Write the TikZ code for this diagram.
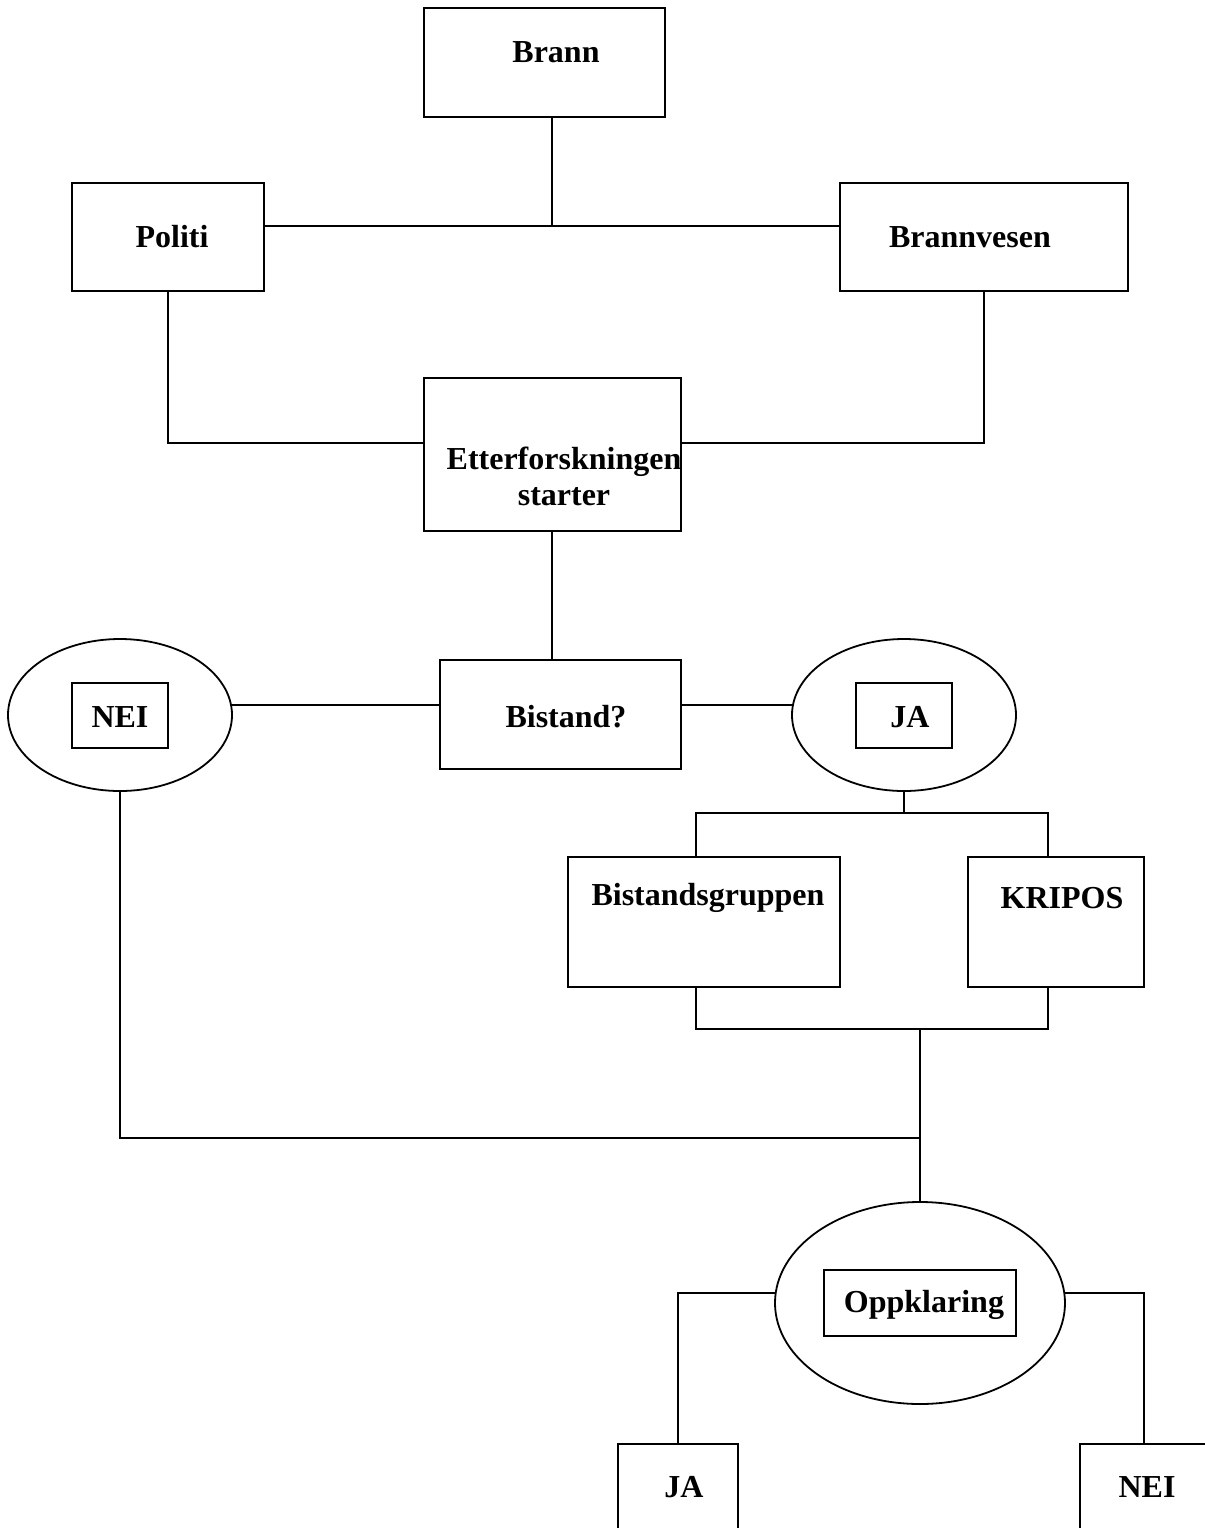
\documentclass[tikz,border=0pt]{standalone}
\usepackage{fontspec}
\setmainfont{Liberation Serif}
\usetikzlibrary{shapes.geometric}

\begin{document}
\begin{tikzpicture}[x=0.5pt,y=-0.5pt,line width=0.9pt,
    box/.style={draw,inner sep=0pt,outer sep=0pt},
    oval/.style={draw,ellipse,inner sep=0pt,outer sep=0pt},
    txt/.style={font=\fontsize{16}{18}\selectfont\bfseries,inner sep=0pt,align=center}]
    \useasboundingbox (0,0) rectangle (1205,1528);
    \clip (0,0) rectangle (1205,1528);
    \node[box,minimum width=120.5pt,minimum height=54.5pt] (brann) at (544.5,62.5) {};
    \node[box,minimum width=96pt,minimum height=54pt] (politi) at (168,237) {};
    \node[box,minimum width=144pt,minimum height=54pt] (brannvesen) at (984,237) {};
    \node[box,minimum width=128.5pt,minimum height=76.5pt] (etter) at (552.5,454.5) {};
    \node[box,minimum width=120.5pt,minimum height=54.5pt] (bistand) at (560.5,714.5) {};
    \node[oval,minimum width=112pt,minimum height=76pt] (neiell) at (120,715) {};
    \node[box,minimum width=48pt,minimum height=32.5pt] (neibox) at (120,715.5) {};
    \node[oval,minimum width=112pt,minimum height=76pt] (jaell) at (904,715) {};
    \node[box,minimum width=48pt,minimum height=32.5pt] (jabox) at (904,715.5) {};
    \node[box,minimum width=136pt,minimum height=65pt] (bgr) at (704,922) {};
    \node[box,minimum width=88pt,minimum height=65pt] (kripos) at (1056,922) {};
    \node[oval,minimum width=145pt,minimum height=101pt] (oppkl) at (920,1303) {};
    \node[box,minimum width=96pt,minimum height=33pt] (oppklbox) at (920,1303) {};
    \node[box,minimum width=60pt,minimum height=60pt] (ja2) at (678,1504) {};
    \node[box,minimum width=64pt,minimum height=60pt] (nei2) at (1144,1504) {};

    \node[txt] (brann-t) at (556,52) {Brann};
    \node[txt] (politi-t) at (172,237) {Politi};
    \node[txt] (brannvesen-t) at (970,237) {Brannvesen};
    \node[txt] (etter-t) at (564,476) {Etterforskningen\\starter};
    \node[txt] (bistand-t) at (566,717) {Bistand?};
    \node[txt] (nei-t) at (120,717) {NEI};
    \node[txt] (ja-t) at (910,717) {JA};
    \node[txt] (bgr-t) at (708,898) {Bistandsgruppen};
    \node[txt] (kripos-t) at (1062,898) {KRIPOS};
    \node[txt] (oppkl-t) at (924,1305) {Oppklaring};
    \node[txt] (ja2-t) at (684,1487) {JA};
    \node[txt] (nei2-t) at (1147,1487) {NEI};

    \coordinate (j1) at (552,226);
    \coordinate (t1) at (696,813);
    \coordinate (t2) at (1048,813);
    \coordinate (b1) at (696,1029);
    \coordinate (b2) at (1048,1029);

    \draw (brann.south -| j1) -- (j1);
    \draw (politi.east |- j1) -- (brannvesen.west |- j1);
    \draw (politi.south) |- (etter.west |- 0,443);
    \draw (brannvesen.south) |- (etter.east |- 0,443);
    \draw (etter.south -| j1) -- (bistand.north -| j1);
    \draw (neiell.5) -- (neiell.5 -| bistand.west);
    \draw (jaell.175) -- (jaell.175 -| bistand.east);
    \draw (jaell.south) -- (jaell.south |- t1);
    \draw (t1 |- bgr.north) -- (t1) -- (t2) -- (t2 |- kripos.north);
    \draw (b1 |- bgr.south) -- (b1) -- (b2) -- (b2 |- kripos.south);
    \draw (oppkl.north |- b1) -- (oppkl.north);
    \draw (neiell.south) |- (oppkl.north |- 0,1138);
    \draw (oppkl.176) -| (ja2.north);
    \draw (oppkl.4) -| (nei2.north);
\end{tikzpicture}
\end{document}
